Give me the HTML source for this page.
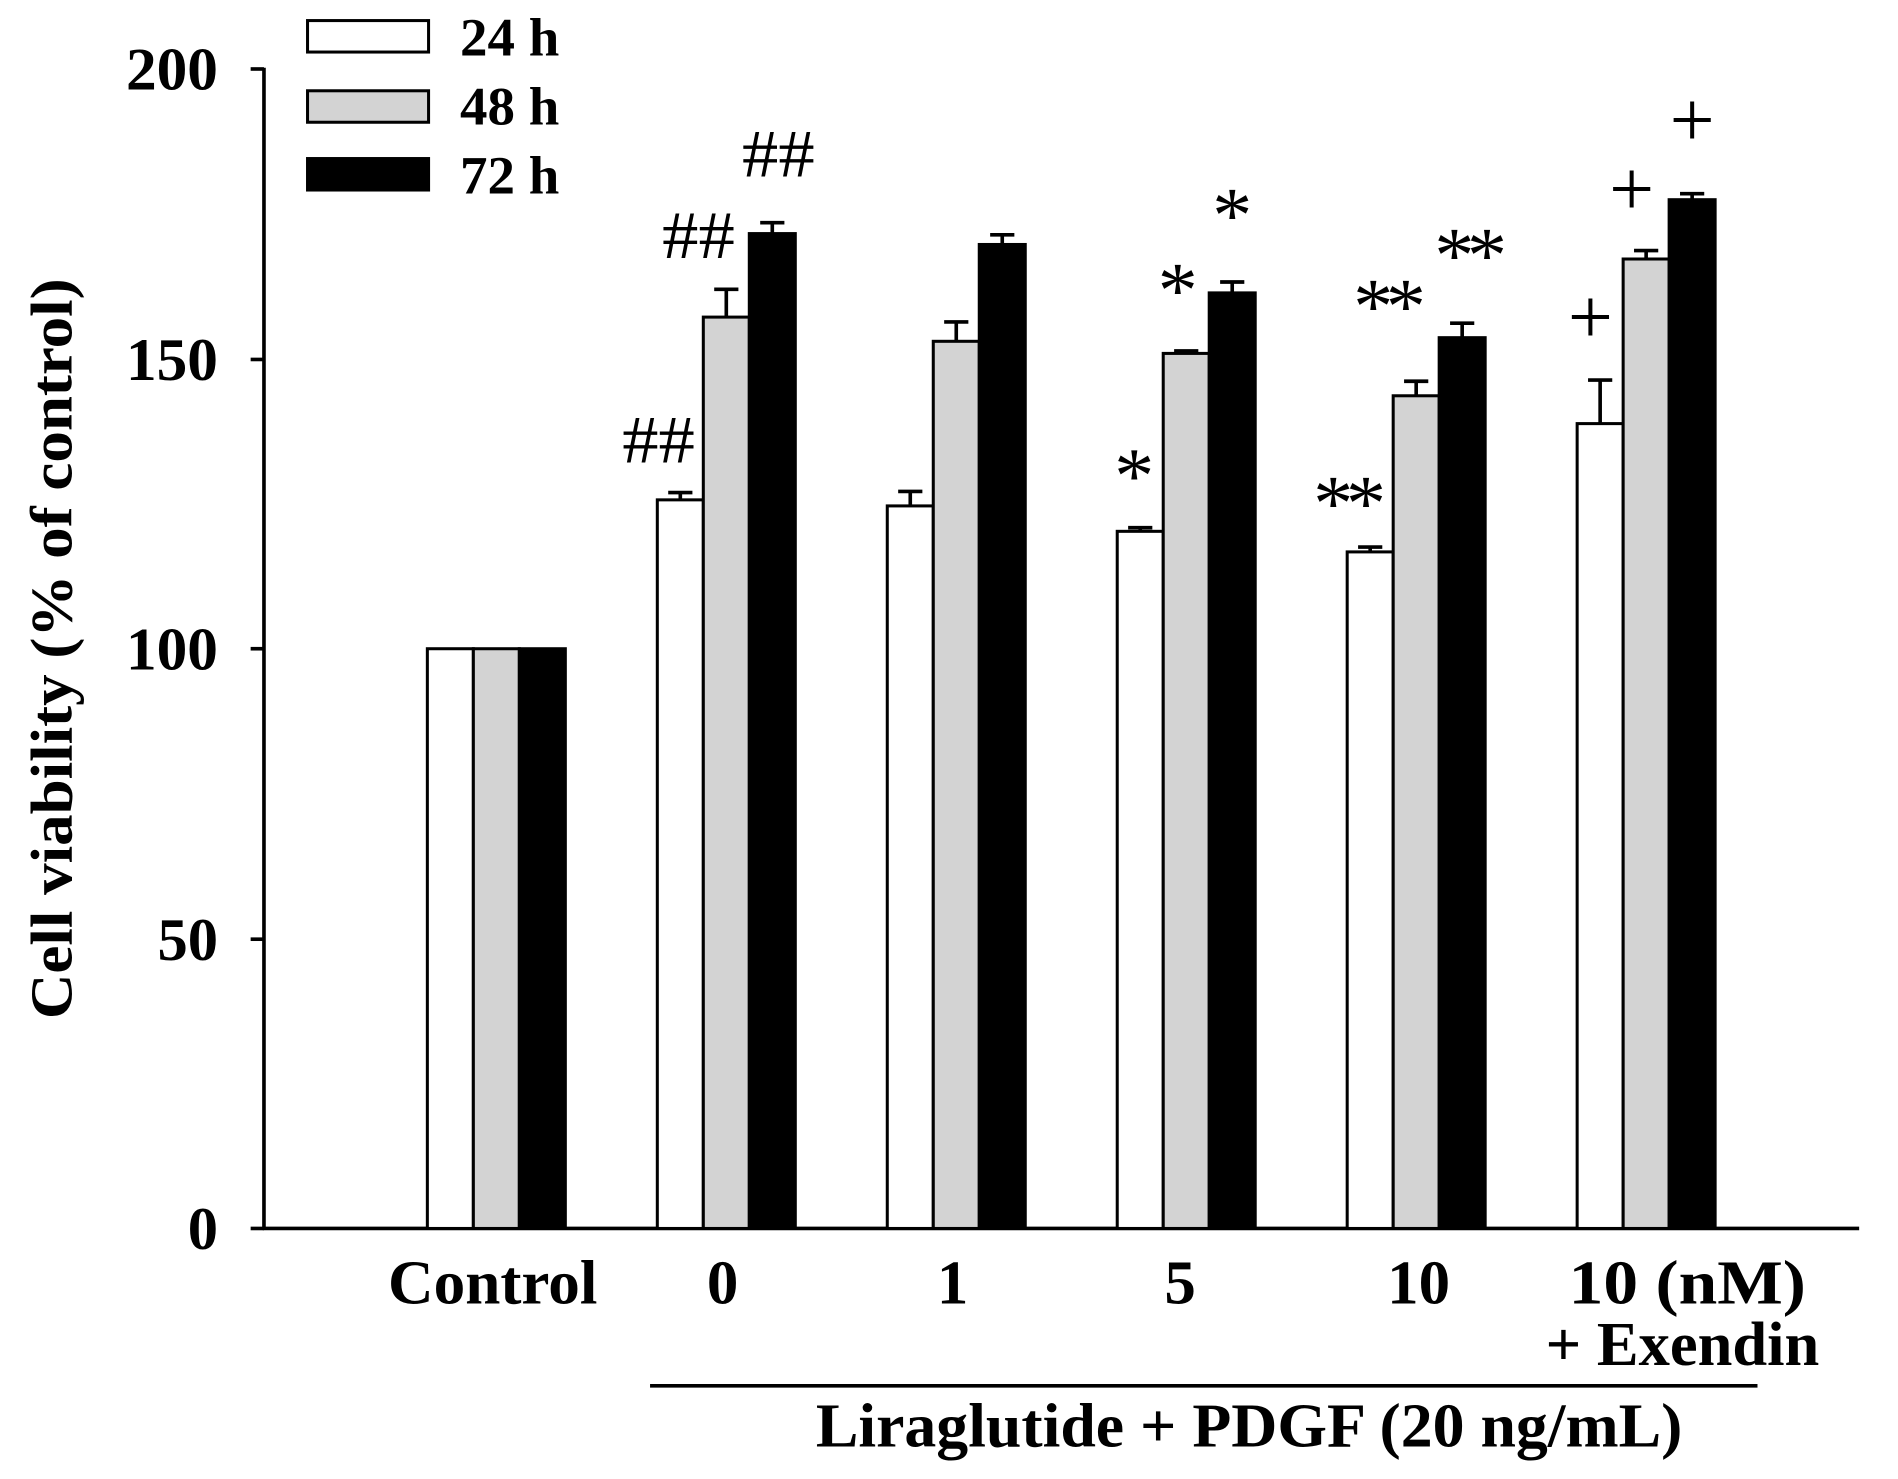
<!DOCTYPE html>
<html><head><meta charset="utf-8"><style>
html,body{margin:0;padding:0;background:#fff}
svg{display:block}
text{font-family:"Liberation Serif",serif;font-weight:bold;fill:#000}
</style></head><body>
<svg width="1898" height="1479" viewBox="0 0 1568 1222" xmlns="http://www.w3.org/2000/svg">
<rect width="1568" height="1222" fill="#fff"/>
<g stroke="#000" stroke-width="3" fill="none">
<line x1="218" y1="56" x2="218" y2="1016"/>
<line x1="217" y1="1015" x2="1536" y2="1015"/>
<line x1="207" y1="57" x2="218" y2="57"/>
<line x1="207" y1="297" x2="218" y2="297"/>
<line x1="207" y1="536" x2="218" y2="536"/>
<line x1="207" y1="776" x2="218" y2="776"/>
<line x1="207" y1="1015" x2="218" y2="1015"/>
<line x1="537" y1="1145" x2="1452" y2="1145"/>
</g>
<g font-size="50" text-anchor="end">
<text x="180" y="74" textLength="76" lengthAdjust="spacingAndGlyphs">200</text>
<text x="180" y="314" textLength="76" lengthAdjust="spacingAndGlyphs">150</text>
<text x="180" y="553" textLength="76" lengthAdjust="spacingAndGlyphs">100</text>
<text x="180" y="793" textLength="50" lengthAdjust="spacingAndGlyphs">50</text>
<text x="180" y="1032">0</text>
</g>
<text transform="translate(59,536) rotate(-90)" font-size="49" text-anchor="middle" textLength="612" lengthAdjust="spacingAndGlyphs">Cell viability (% of control)</text>
<g stroke="#000" stroke-width="2.5">
<rect x="254" y="17" width="100" height="26" fill="#fff"/>
<rect x="254" y="75" width="100" height="26" fill="#d3d3d3"/>
<rect x="254" y="131" width="100" height="26" fill="#000"/>
</g>
<g font-size="45">
<text x="380" y="46" textLength="82" lengthAdjust="spacingAndGlyphs">24 h</text>
<text x="380" y="103" textLength="82" lengthAdjust="spacingAndGlyphs">48 h</text>
<text x="380" y="160" textLength="82" lengthAdjust="spacingAndGlyphs">72 h</text>
</g>
<g stroke="#000" stroke-width="2.5">
<rect x="353" y="536" width="38" height="479" fill="#fff"/>
<rect x="391" y="536" width="38" height="479" fill="#d3d3d3"/>
<rect x="429" y="536" width="38" height="479" fill="#000"/>
<rect x="543" y="413" width="38" height="602" fill="#fff"/>
<rect x="581" y="262" width="38" height="753" fill="#d3d3d3"/>
<rect x="619" y="193" width="38" height="822" fill="#000"/>
<rect x="733" y="418" width="38" height="597" fill="#fff"/>
<rect x="771" y="282" width="38" height="733" fill="#d3d3d3"/>
<rect x="809" y="202" width="38" height="813" fill="#000"/>
<rect x="923" y="439" width="38" height="576" fill="#fff"/>
<rect x="961" y="292" width="38" height="723" fill="#d3d3d3"/>
<rect x="999" y="242" width="38" height="773" fill="#000"/>
<rect x="1113" y="456" width="38" height="559" fill="#fff"/>
<rect x="1151" y="327" width="38" height="688" fill="#d3d3d3"/>
<rect x="1189" y="279" width="38" height="736" fill="#000"/>
<rect x="1303" y="350" width="38" height="665" fill="#fff"/>
<rect x="1341" y="214" width="38" height="801" fill="#d3d3d3"/>
<rect x="1379" y="165" width="38" height="850" fill="#000"/>
</g>
<g stroke="#000" stroke-width="3">
<path d="M562 413V407M552 407H572"/>
<path d="M600 262V239M590 239H610"/>
<path d="M638 193V184M628 184H648"/>
<path d="M752 418V406M742 406H762"/>
<path d="M790 282V266M780 266H800"/>
<path d="M828 202V194M818 194H838"/>
<path d="M942 439V436M932 436H952"/>
<path d="M980 292V290M970 290H990"/>
<path d="M1018 242V233M1008 233H1028"/>
<path d="M1132 456V452M1122 452H1142"/>
<path d="M1170 327V315M1160 315H1180"/>
<path d="M1208 279V267M1198 267H1218"/>
<path d="M1322 350V314M1312 314H1332"/>
<path d="M1360 214V207M1350 207H1370"/>
<path d="M1398 165V160M1388 160H1408"/>
</g>
<g font-size="56" text-anchor="middle">
<text x="544" y="382" style="font-weight:normal" textLength="60" lengthAdjust="spacingAndGlyphs">##</text>
<text x="577" y="213" style="font-weight:normal" textLength="60" lengthAdjust="spacingAndGlyphs">##</text>
<text x="643" y="146" style="font-weight:normal" textLength="60" lengthAdjust="spacingAndGlyphs">##</text>
</g>
<g font-size="66" text-anchor="middle" style="font-weight:normal">
<text x="1314" y="284" style="font-weight:normal">+</text>
<text x="1348" y="178" style="font-weight:normal">+</text>
<text x="1398" y="121" style="font-weight:normal">+</text>
</g>
<g font-size="66" text-anchor="middle">
<text x="937" y="415" style="font-weight:normal">*</text>
<text x="973" y="262" style="font-weight:normal">*</text>
<text x="1018" y="200" style="font-weight:normal">*</text>
<text x="1115" y="438" style="font-weight:normal" textLength="60" lengthAdjust="spacing">**</text>
<text x="1148" y="275" style="font-weight:normal" textLength="60" lengthAdjust="spacing">**</text>
<text x="1215" y="233" style="font-weight:normal" textLength="60" lengthAdjust="spacing">**</text>
</g>
<g font-size="52" text-anchor="middle">
<text x="407" y="1077" textLength="173" lengthAdjust="spacingAndGlyphs">Control</text>
<text x="597" y="1077">0</text>
<text x="787" y="1077">1</text>
<text x="975" y="1077">5</text>
<text x="1172" y="1077">10</text>
<text x="1394" y="1077" textLength="196" lengthAdjust="spacingAndGlyphs">10 (nM)</text>
<text x="1390" y="1128" textLength="226" lengthAdjust="spacingAndGlyphs">+ Exendin</text>
<text x="1032" y="1195" textLength="716" lengthAdjust="spacingAndGlyphs">Liraglutide + PDGF (20 ng/mL)</text>
</g>
</svg>
</body></html>
